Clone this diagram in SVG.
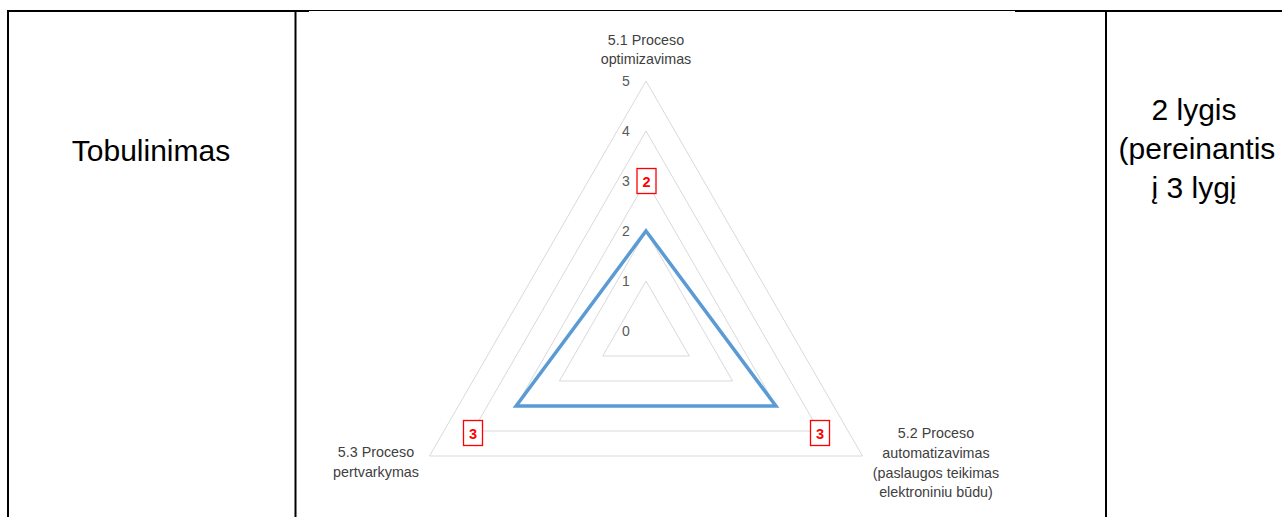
<svg xmlns="http://www.w3.org/2000/svg" width="1282" height="517" viewBox="0 0 1282 517">
  <style>
    .tb { stroke: #000; stroke-width: 2; fill: none; }
    .tbthin { stroke: #000; stroke-width: 1; fill: none; }
    .grid { stroke: #d9d9d9; stroke-width: 1; fill: none; }
    .series { stroke: #5b9bd5; stroke-width: 3.5; fill: none; stroke-linejoin: miter; }
    .cell { font-family: "Liberation Sans", Arial, sans-serif; font-size: 30px; fill: #000; text-anchor: middle; }
    .cat { font-family: "Liberation Sans", Arial, sans-serif; font-size: 14.3px; fill: #404040; text-anchor: middle; }
    .tick { font-family: "Liberation Sans", Arial, sans-serif; font-size: 14px; fill: #595959; text-anchor: middle; }
    .dlbox { fill: #fff; stroke: #ff0000; stroke-width: 1.3; }
    .dl { font-family: "Liberation Sans", Arial, sans-serif; font-size: 14.5px; font-weight: bold; fill: #ff0000; text-anchor: middle; }
  </style>
  <rect width="1282" height="517" fill="#fff"/>

  <g id="table">
    <line class="tb" x1="7" y1="11" x2="309" y2="11"/>
    <line class="tbthin" x1="309" y1="10.5" x2="1015" y2="10.5"/>
    <line class="tb" x1="1015" y1="11" x2="1282" y2="11"/>
    <line class="tb" x1="8" y1="10" x2="8" y2="517"/>
    <line class="tb" x1="295.5" y1="10" x2="295.5" y2="517"/>
    <line class="tb" x1="1106" y1="10" x2="1106" y2="517"/>
  </g>

  <g id="cell-left">
    <text class="cell" x="151" y="161">Tobulinimas</text>
  </g>

  <g id="cell-right">
    <text class="cell" x="1194" y="120">2 lygis</text>
    <text class="cell" x="1197" y="159">(pereinantis</text>
    <text class="cell" x="1194" y="198">į 3 lygį</text>
  </g>

  <g id="radar-grid">
    <polygon class="grid" points="646,81 862.5,456 429.5,456"/>
    <polygon class="grid" points="646,131 819.2,431 472.8,431"/>
    <polygon class="grid" points="646,181 775.9,406 516.1,406"/>
    <polygon class="grid" points="646,231 732.6,381 559.4,381"/>
    <polygon class="grid" points="646,281 689.3,356 602.7,356"/>
  </g>

  <g id="radar-ticks">
    <text class="tick" x="626" y="86">5</text>
    <text class="tick" x="626" y="136">4</text>
    <text class="tick" x="626" y="186">3</text>
    <text class="tick" x="626" y="236">2</text>
    <text class="tick" x="626" y="286">1</text>
    <text class="tick" x="626" y="336">0</text>
  </g>

  <g id="connectors">
    <polygon class="series" points="646,231 775.9,406 516.1,406"/>
  </g>

  <g id="axis-5-1">
    <text class="cat" x="646" y="45">5.1 Proceso</text>
    <text class="cat" x="646" y="64">optimizavimas</text>
  </g>
  <g id="axis-5-2">
    <text class="cat" x="936" y="438">5.2 Proceso</text>
    <text class="cat" x="936" y="458">automatizavimas</text>
    <text class="cat" x="936" y="478">(paslaugos teikimas</text>
    <text class="cat" x="936" y="497">elektroniniu būdu)</text>
  </g>
  <g id="axis-5-3">
    <text class="cat" x="376" y="457">5.3 Proceso</text>
    <text class="cat" x="376" y="477">pertvarkymas</text>
  </g>

  <g id="label-5-1">
    <rect class="dlbox" x="637" y="168.5" width="19" height="25"/>
    <text class="dl" x="646.5" y="186.5">2</text>
  </g>
  <g id="label-5-2">
    <rect class="dlbox" x="810.5" y="420.5" width="19" height="25"/>
    <text class="dl" x="820" y="438.5">3</text>
  </g>
  <g id="label-5-3">
    <rect class="dlbox" x="463.5" y="420.5" width="19" height="25"/>
    <text class="dl" x="473" y="438.5">3</text>
  </g>
</svg>
